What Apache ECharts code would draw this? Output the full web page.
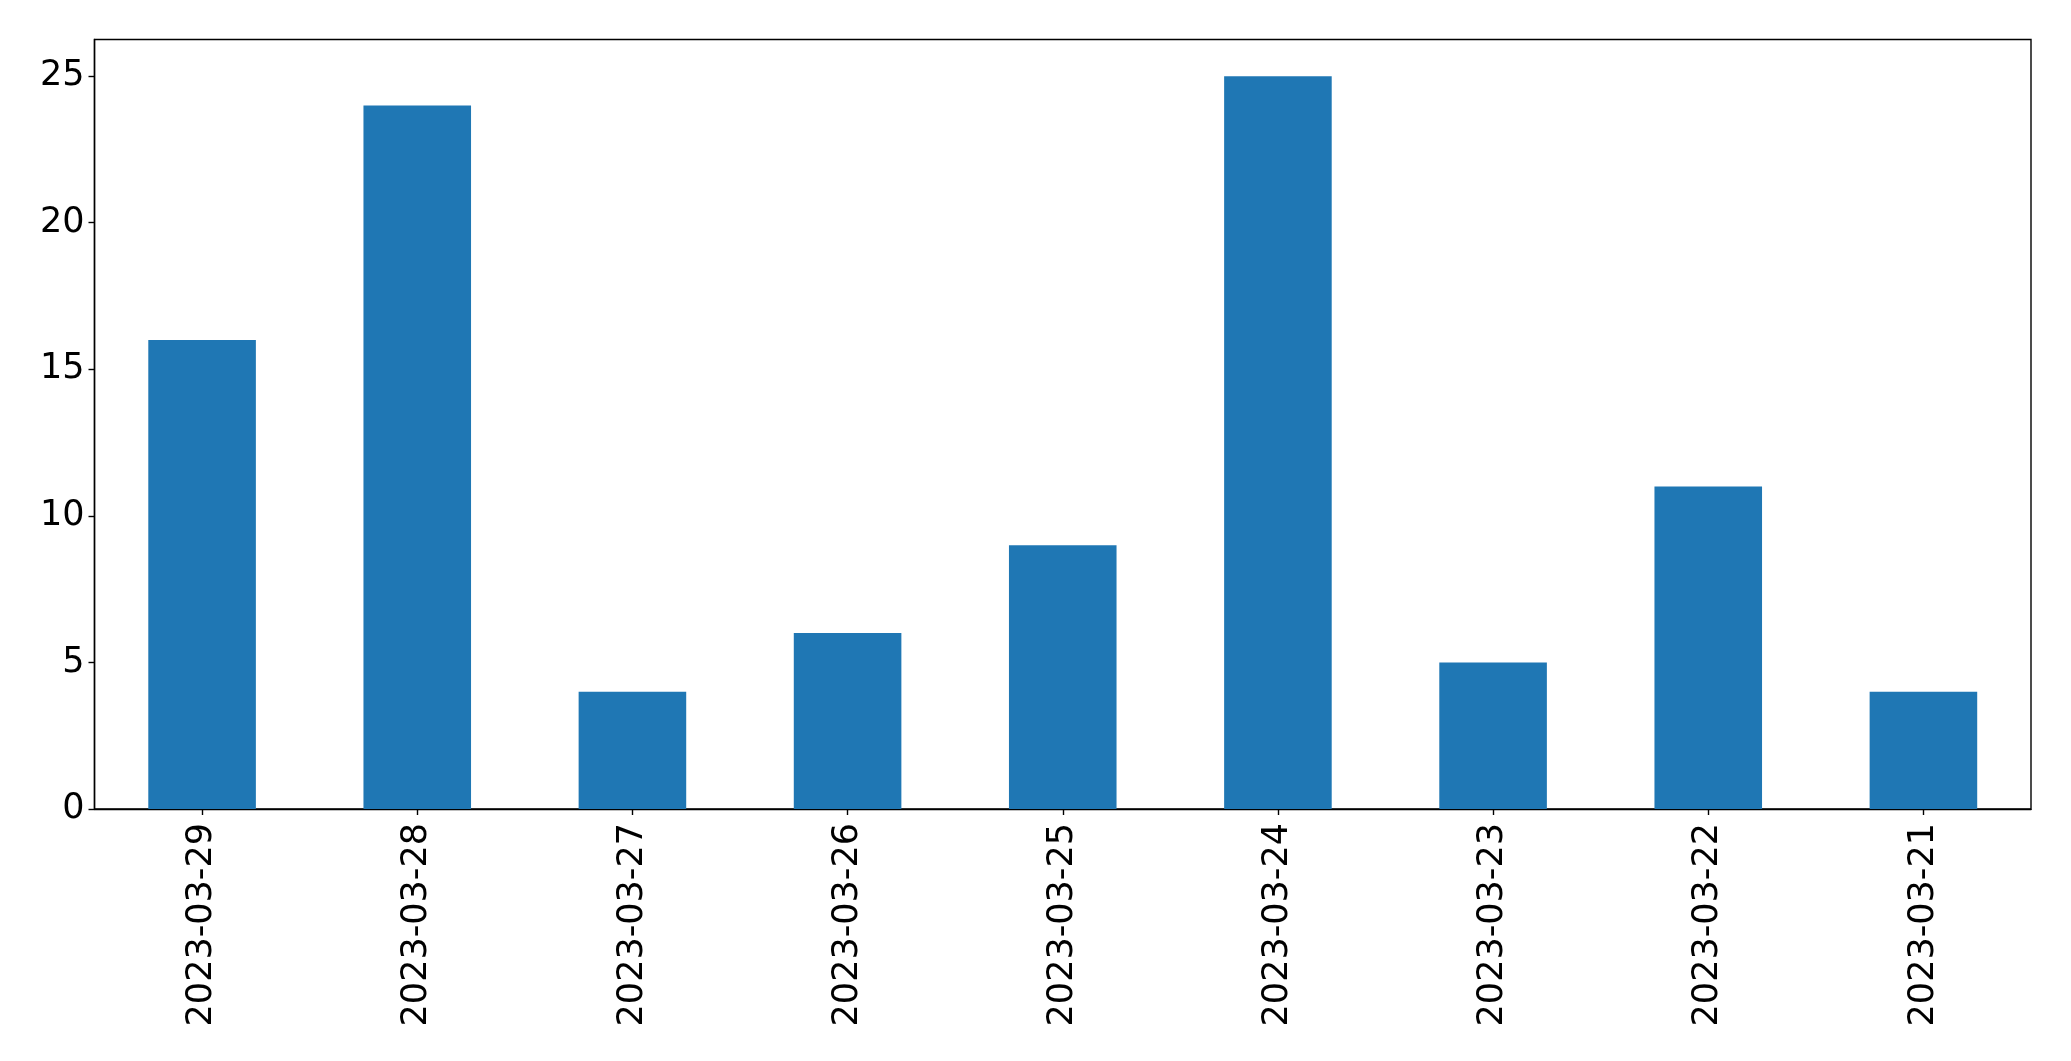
<!DOCTYPE html>
<html>
<head>
<meta charset="utf-8">
<script src="https://cdn.jsdelivr.net/npm/echarts@6/dist/echarts.min.js"></script>
<style>
html,body{margin:0;padding:0;background:#fff;}
#chart{width:2071px;height:1061px;}
</style>
</head>
<body>
<div id="chart"></div>
<script>
const categories = ["2023-03-29","2023-03-28","2023-03-27","2023-03-26","2023-03-25","2023-03-24","2023-03-23","2023-03-22","2023-03-21"];
const values = [16, 24, 4, 6, 9, 25, 5, 11, 4];
const yTicks = [0, 5, 10, 15, 20, 25];

const chart = echarts.init(document.getElementById('chart'), null, {renderer: 'canvas'});
const font = 'DejaVu Sans';
chart.setOption({
  animation: false,
  backgroundColor: '#ffffff',
  grid: {
    left: 94.5, right: 40, top: 39.5, bottom: 252,
    show: true, borderColor: '#000', borderWidth: 1.4, backgroundColor: 'transparent',
    containLabel: false
  },
  xAxis: {
    type: 'category',
    data: categories,
    boundaryGap: true,
    axisLine: {show: true, lineStyle: {color: '#000', width: 1.4}},
    axisTick: {show: true, alignWithLabel: true, length: 6, lineStyle: {color: '#000', width: 1.4}},
    axisLabel: {rotate: 90, margin: 14, color: '#000', fontFamily: font, fontSize: 35, interval: 0},
    splitLine: {show: false}
  },
  yAxis: {
    type: 'value',
    min: 0, max: 26.25, interval: 5,
    axisLine: {show: true, lineStyle: {color: '#000', width: 1.4}},
    axisTick: {show: true, length: 6, lineStyle: {color: '#000', width: 1.4}},
    axisLabel: {
      margin: 10, color: '#000', fontFamily: font, fontSize: 35, showMaxLabel: false,
      formatter: function (v) { return yTicks.indexOf(v) >= 0 ? String(v) : ''; }
    },
    splitLine: {show: false}
  },
  series: [{
    type: 'bar',
    data: values,
    barWidth: '50%',
    itemStyle: {color: '#1f77b4'}
  }]
});
</script>
</body>
</html>
